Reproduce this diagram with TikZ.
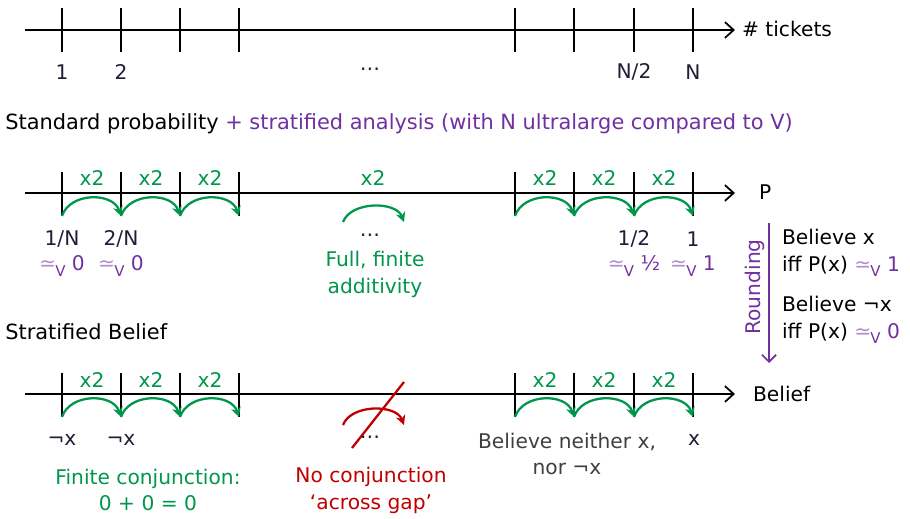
\documentclass[tikz,border=0pt]{standalone}
\usepackage{fontspec}
\setmainfont{DejaVu Sans}
\usetikzlibrary{arrows.meta}
\definecolor{grn}{RGB}{0,150,75}
\definecolor{purp}{RGB}{112,48,160}
\definecolor{rd}{RGB}{192,0,0}
\definecolor{ink}{RGB}{30,30,55}
\definecolor{dimgray}{RGB}{64,64,64}
\newcommand{\simV}{{\color{purp!55}≃}\kern-0.5pt\raisebox{-0.5ex}{\fontsize{8.5}{9}\selectfont V}}

\begin{document}
\begin{tikzpicture}[x=0.02cm,y=-0.02cm,
  every node/.style={font=\fontsize{11.5}{15.3}\selectfont,inner sep=1pt},
  heading/.style={anchor=west,inner sep=0pt,font=\fontsize{11.9}{15.3}\selectfont},
  axis/.style={line width=1pt,-{Straight Barb[length=5pt,width=9pt,line width=1pt]}},
  tickmark/.style={line width=1pt},
  hop/.style={grn,line width=1.3pt,-{Stealth[length=5.5pt,width=5.5pt]}},
  nohop/.style={rd,line width=1.3pt,-{Stealth[length=5.5pt,width=5.5pt]}},
  mult/.style={text=grn},
  val/.style={text=purp}]
\useasboundingbox (0,0) rectangle (910,519);

% the three axes
\coordinate (ts) at (25,30);  \coordinate (te) at (735,30);
\coordinate (ms) at (25,193); \coordinate (me) at (735,193);
\coordinate (bs) at (25,394); \coordinate (be) at (735,394);
\draw[axis] (ts) -- (te);
\draw[axis] (ms) -- (me);
\draw[axis] (bs) -- (be);
\node[anchor=west] (tk) at (740,29) {\# tickets};
\node[anchor=west] (P) at (757,192) {P};
\node[anchor=west] (bel) at (751,394) {Belief};

% ticks
\foreach \i/\x in {1/62,2/121,3/180,4/239,5/515,6/574,7/634,8/693} {
  \draw[tickmark] (\x,8) -- (\x,52);
  \draw[tickmark] (\x,172) -- (\x,216) coordinate (m\i);
  \draw[tickmark] (\x,373) -- (\x,417) coordinate (b\i);
}

% doubling steps
\foreach \i/\j/\x in {1/2/92,2/3/151,3/4/210,5/6/545,6/7/604,7/8/664} {
  \draw[hop] (m\i) .. controls +(8,-24) and +(-8,-24) .. (m\j);
  \draw[hop] (b\i) .. controls +(8,-24) and +(-8,-24) .. (b\j);
  \node[mult] (mx\i) at (\x,178) {x2};
  \node[mult] (bx\i) at (\x,380) {x2};
}
\coordinate (ga) at (343,222); \coordinate (gb) at (404,222);
\draw[hop] (ga) .. controls +(8,-21) and +(-8,-21) .. (gb);
\node[mult] (mxg) at (373,178) {x2};
\coordinate (ra) at (343,425); \coordinate (rb) at (404,425);
\draw[nohop] (ra) .. controls +(8,-21) and +(-8,-21) .. (rb);
\coordinate (sa) at (404,382); \coordinate (sb) at (352,448);
\draw[rd,line width=1.3pt] (sa) -- (sb);

% tickets
\node[text=ink] (n1) at (62,72) {1};
\node[text=ink] (n2) at (121,72) {2};
\node[text=ink] (ndots) at (370,69) {…};
\node[text=ink] (nhalf) at (634,72) {N/2};
\node[text=ink] (nN) at (693,72) {N};

% probability
\node[heading] (sp) at (5,124) {Standard probability {\color{purp}+ stratified analysis (with N ultralarge compared to V)}};
\node[text=ink] (p1) at (62,239) {1/N};
\node[text=ink] (p2) at (121,239) {2/N};
\node[text=ink] (ph) at (634,239) {1/2};
\node[text=ink] (pone) at (693,239) {1};
\node[val] (v1) at (62,266) {\simV\ 0};
\node[val] (v2) at (121,266) {\simV\ 0};
\node[val] (vh) at (634,266) {\simV\ ½};
\node[val] (vone) at (693,266) {\simV\ 1};
\node[text=ink] (pdots) at (370,235) {…};
\node[mult,align=center] (add) at (375,274) {Full, finite\\additivity};

% rounding
\coordinate (ra1) at (769,223); \coordinate (ra2) at (769,363);
\draw[purp,line width=1pt,-{Straight Barb[length=4pt,width=8pt,line width=1pt]}] (ra1) -- (ra2);
\node[val,rotate=90] (rnd) at (755,287) {Rounding};
\node[anchor=west,align=left] (bx) at (780,253) {Believe x\\iff P(x) {\color{purp}\simV\ 1}};
\node[anchor=west,align=left] (bnx) at (780,320) {Believe ¬x\\iff P(x) {\color{purp}\simV\ 0}};

% belief
\node[heading] (sb) at (5,332) {Stratified Belief};
\node[text=ink] (q1) at (62,440) {¬x};
\node[text=ink] (q2) at (121,440) {¬x};
\node[text=ink] (qx) at (694,440) {x};
\node[text=dimgray,align=center] (nei) at (567,454) {Believe neither x,\\nor ¬x};
\node[text=ink] (bdots) at (370,437) {…};
\node[mult,align=center] (fc) at (148,490) {Finite conjunction:\\0 + 0 = 0};
\node[text=rd,align=center] (nc) at (371,490) {No conjunction\\‘across gap’};
\end{tikzpicture}
\end{document}
